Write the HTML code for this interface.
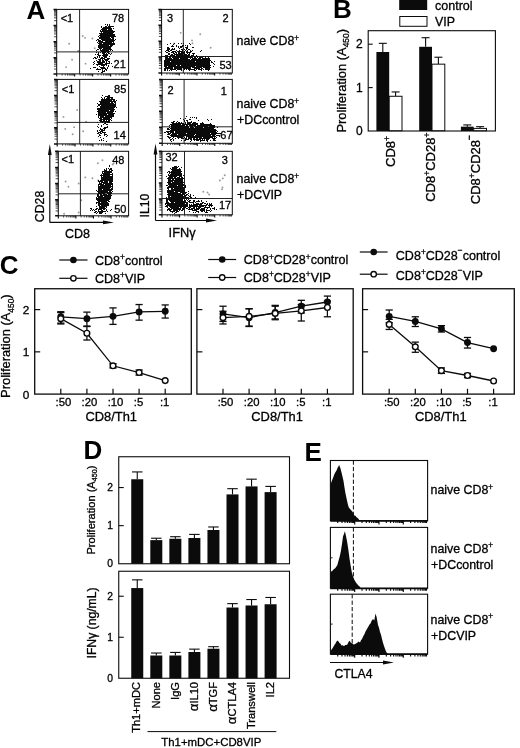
<!DOCTYPE html>
<html><head><meta charset="utf-8"><title>Figure</title>
<style>
html,body{margin:0;padding:0;background:#fff;}
body{width:520px;height:748px;overflow:hidden;font-family:"Liberation Sans",sans-serif;}
svg{display:block;will-change:transform;}
svg text{font-family:"Liberation Sans",sans-serif;}
</style></head><body>
<svg width="520" height="748" viewBox="0 0 520 748" font-family="Liberation Sans, sans-serif">
<rect x="0" y="0" width="520" height="748" fill="#fff"/>
<path d="M105 24.5h1M107 24.5h1M109 24.5h1M107 25.5h1M109 25.5h1M101 26.5h1M105 26.5h2M108 26.5h6M101 27.5h1M103 27.5h8M102 28.5h10M113 28.5h1M101 29.5h6M108 29.5h4M100 30.5h1M102 30.5h11M100 31.5h15M101 32.5h1M103 32.5h11M99 33.5h14M100 34.5h15M99 35.5h16M98 36.5h1M100 36.5h16M99 37.5h11M111 37.5h3M99 38.5h12M112 38.5h2M97 39.5h2M101 39.5h13M115 39.5h1M96 40.5h1M98 40.5h3M102 40.5h13M98 41.5h5M105 41.5h9M97 42.5h1M99 42.5h13M113 42.5h1M98 43.5h4M103 43.5h12M99 44.5h16M98 45.5h11M110 45.5h3M98 46.5h14M98 47.5h13M99 48.5h3M103 48.5h8M97 49.5h2M100 49.5h1M102 49.5h10M96 50.5h1M100 50.5h9M110 50.5h1M112 50.5h1M101 51.5h9M96 52.5h1M98 52.5h1M100 52.5h1M102 52.5h4M107 52.5h2M98 53.5h1M102 53.5h3M106 53.5h1M108 53.5h2M111 53.5h1M95 54.5h1M97 54.5h2M103 54.5h5M110 54.5h1M98 55.5h3M102 55.5h6M97 56.5h1M99 56.5h1M103 56.5h4M109 56.5h1M94 57.5h2M97 57.5h1M99 57.5h1M101 57.5h2M104 57.5h3M93 58.5h1M95 58.5h2M100 58.5h5M107 58.5h3M98 59.5h3M102 59.5h1M104 59.5h5M96 60.5h1M99 60.5h2M102 60.5h2M105 60.5h3M94 61.5h1M97 61.5h4M102 61.5h3M106 61.5h1M108 61.5h2M93 62.5h1M97 62.5h8M106 62.5h1M109 62.5h1M94 63.5h1M98 63.5h5M105 63.5h5M111 63.5h1M93 64.5h1M96 64.5h11M97 65.5h1M101 65.5h4M106 65.5h1M108 65.5h1M99 66.5h1M103 66.5h1M108 66.5h1M112 66.5h1M93 67.5h3M100 67.5h5M107 67.5h1M90 68.5h1M97 68.5h1M101 68.5h5M107 68.5h1M96 69.5h5M102 69.5h1M105 69.5h2M102 70.5h1M104 70.5h1M106 70.5h1M98 71.5h1M102 71.5h3M101 72.5h2" stroke="#0b0b0b" stroke-width="1" fill="none" opacity="1.0" shape-rendering="crispEdges"/>
<circle cx="85.56" cy="63.67" r="0.95" fill="#0b0b0b" opacity="0.42"/>
<circle cx="66.1" cy="67.09" r="0.95" fill="#0b0b0b" opacity="0.42"/>
<circle cx="94.72" cy="48.21" r="0.95" fill="#0b0b0b" opacity="0.42"/>
<circle cx="72.08" cy="59.81" r="0.95" fill="#0b0b0b" opacity="0.42"/>
<circle cx="92.4" cy="38.47" r="0.95" fill="#0b0b0b" opacity="0.42"/>
<circle cx="69.17" cy="43.82" r="0.95" fill="#0b0b0b" opacity="0.42"/>
<circle cx="85.09" cy="37.85" r="0.95" fill="#0b0b0b" opacity="0.42"/>
<circle cx="78.23" cy="51.01" r="0.95" fill="#0b0b0b" opacity="0.42"/>
<circle cx="82.73" cy="36.02" r="0.95" fill="#0b0b0b" opacity="0.42"/>
<rect x="56.7" y="9.4" width="71.9" height="64.5" fill="none" stroke="#0b0b0b" stroke-width="1.0"/>
<line x1="79.6" y1="9.4" x2="79.6" y2="73.9" stroke="#0b0b0b" stroke-width="0.9" />
<line x1="56.7" y1="51.9" x2="128.6" y2="51.9" stroke="#0b0b0b" stroke-width="0.9" />
<path d="M56.7 73.9v2.6M74.67 73.9v2.6M92.65 73.9v2.6M110.62 73.9v2.6" stroke="#0b0b0b" stroke-width="1.1" fill="none"/>
<path d="M62.11 73.9v1.7M65.28 73.9v1.7M67.52 73.9v1.7M69.26 73.9v1.7M70.69 73.9v1.7M71.89 73.9v1.7M72.93 73.9v1.7M73.85 73.9v1.7M80.09 73.9v1.7M83.25 73.9v1.7M85.5 73.9v1.7M87.24 73.9v1.7M88.66 73.9v1.7M89.87 73.9v1.7M90.91 73.9v1.7M91.83 73.9v1.7M98.06 73.9v1.7M101.23 73.9v1.7M103.47 73.9v1.7M105.21 73.9v1.7M106.64 73.9v1.7M107.84 73.9v1.7M108.88 73.9v1.7M109.8 73.9v1.7M116.04 73.9v1.7M119.2 73.9v1.7M121.45 73.9v1.7M123.19 73.9v1.7M124.61 73.9v1.7M125.82 73.9v1.7M126.86 73.9v1.7M127.78 73.9v1.7" stroke="#0b0b0b" stroke-width="0.9" fill="none" opacity="0.8"/>
<path d="M56.7 69.05h-2.7M56.7 66.21h-2.7M56.7 64.19h-2.7M56.7 62.63h-2.7M56.7 61.35h-2.7M56.7 60.27h-2.7M56.7 59.34h-2.7M56.7 58.51h-2.7M56.7 52.92h-2.7M56.7 50.08h-2.7M56.7 48.07h-2.7M56.7 46.5h-2.7M56.7 45.23h-2.7M56.7 44.15h-2.7M56.7 43.21h-2.7M56.7 42.39h-2.7M56.7 36.8h-2.7M56.7 33.96h-2.7M56.7 31.94h-2.7M56.7 30.38h-2.7M56.7 29.1h-2.7M56.7 28.02h-2.7M56.7 27.09h-2.7M56.7 26.26h-2.7M56.7 20.67h-2.7M56.7 17.83h-2.7M56.7 15.82h-2.7M56.7 14.25h-2.7M56.7 12.98h-2.7M56.7 11.9h-2.7M56.7 10.96h-2.7M56.7 10.14h-2.7" stroke="#0b0b0b" stroke-width="0.85" fill="none" opacity="0.9"/>
<path d="M56.7 73.9h-3.2M56.7 57.78h-3.2M56.7 41.65h-3.2M56.7 25.53h-3.2M56.7 9.4h-3.2" stroke="#0b0b0b" stroke-width="1.5" fill="none"/>
<text x="60.7" y="21.5" font-size="11" text-anchor="start" font-weight="normal" fill="#000" stroke="#000" stroke-width="0.3" >&lt;1</text>
<text x="124.2" y="21.6" font-size="11" text-anchor="end" font-weight="normal" fill="#000" stroke="#000" stroke-width="0.3" >78</text>
<text x="125.8" y="67.8" font-size="11" text-anchor="end" font-weight="normal" fill="#000" stroke="#000" stroke-width="0.3" >21</text>
<path d="M102 95.5h1M108 95.5h2M105 96.5h5M101 97.5h1M104 97.5h1M107 97.5h6M102 98.5h1M104 98.5h1M106 98.5h4M111 98.5h2M101 99.5h14M101 100.5h11M113 100.5h2M116 100.5h1M99 101.5h17M100 102.5h10M111 102.5h2M114 102.5h2M97 103.5h1M100 103.5h14M115 103.5h1M98 104.5h18M98 105.5h2M101 105.5h15M97 106.5h1M100 106.5h16M100 107.5h15M116 107.5h1M97 108.5h17M97 109.5h18M98 110.5h11M110 110.5h4M97 111.5h17M115 111.5h1M98 112.5h8M107 112.5h6M98 113.5h17M96 114.5h1M98 114.5h9M108 114.5h6M98 115.5h16M98 116.5h1M100 116.5h4M105 116.5h9M98 117.5h1M100 117.5h12M99 118.5h3M103 118.5h7M111 118.5h1M100 119.5h11M99 120.5h3M103 120.5h2M106 120.5h1M108 120.5h2M111 120.5h1M100 121.5h10M97 122.5h1M102 122.5h1M105 122.5h1M107 122.5h3M104 123.5h2M98 124.5h1M103 124.5h1M106 124.5h2M101 125.5h1M97 126.5h1M101 126.5h1M107 126.5h1M98 127.5h1M104 127.5h4M100 128.5h1M103 128.5h3M100 129.5h3M104 129.5h1M97 130.5h1M99 130.5h1M101 130.5h4M97 131.5h1M100 131.5h3M98 132.5h3M102 132.5h4M97 133.5h2M100 133.5h2M104 133.5h1M99 134.5h1M104 134.5h3M99 135.5h2M104 135.5h1M107 135.5h1M98 136.5h1M106 136.5h1M100 137.5h1M103 138.5h1M101 139.5h1M99 140.5h1M101 140.5h1M103 140.5h1M106 141.5h1" stroke="#0b0b0b" stroke-width="1" fill="none" opacity="1.0" shape-rendering="crispEdges"/>
<circle cx="70.35" cy="92" r="0.95" fill="#0b0b0b" opacity="0.42"/>
<circle cx="74.15" cy="127.17" r="0.95" fill="#0b0b0b" opacity="0.42"/>
<circle cx="63.47" cy="116.9" r="0.95" fill="#0b0b0b" opacity="0.42"/>
<circle cx="65.25" cy="128.89" r="0.95" fill="#0b0b0b" opacity="0.42"/>
<circle cx="77.19" cy="109.92" r="0.95" fill="#0b0b0b" opacity="0.42"/>
<circle cx="86.14" cy="121.61" r="0.95" fill="#0b0b0b" opacity="0.42"/>
<circle cx="72.66" cy="134.29" r="0.95" fill="#0b0b0b" opacity="0.42"/>
<circle cx="83.16" cy="131.31" r="0.95" fill="#0b0b0b" opacity="0.42"/>
<rect x="57.2" y="79.4" width="71.4" height="64.5" fill="none" stroke="#0b0b0b" stroke-width="1.0"/>
<line x1="79.7" y1="79.4" x2="79.7" y2="143.9" stroke="#0b0b0b" stroke-width="0.9" />
<line x1="57.2" y1="122.4" x2="128.6" y2="122.4" stroke="#0b0b0b" stroke-width="0.9" />
<path d="M57.2 143.9v2.6M75.05 143.9v2.6M92.9 143.9v2.6M110.75 143.9v2.6" stroke="#0b0b0b" stroke-width="1.1" fill="none"/>
<path d="M62.57 143.9v1.7M65.72 143.9v1.7M67.95 143.9v1.7M69.68 143.9v1.7M71.09 143.9v1.7M72.29 143.9v1.7M73.32 143.9v1.7M74.23 143.9v1.7M80.42 143.9v1.7M83.57 143.9v1.7M85.8 143.9v1.7M87.53 143.9v1.7M88.94 143.9v1.7M90.14 143.9v1.7M91.17 143.9v1.7M92.08 143.9v1.7M98.27 143.9v1.7M101.42 143.9v1.7M103.65 143.9v1.7M105.38 143.9v1.7M106.79 143.9v1.7M107.99 143.9v1.7M109.02 143.9v1.7M109.93 143.9v1.7M116.12 143.9v1.7M119.27 143.9v1.7M121.5 143.9v1.7M123.23 143.9v1.7M124.64 143.9v1.7M125.84 143.9v1.7M126.87 143.9v1.7M127.78 143.9v1.7" stroke="#0b0b0b" stroke-width="0.9" fill="none" opacity="0.8"/>
<path d="M57.2 139.05h-2.7M57.2 136.21h-2.7M57.2 134.19h-2.7M57.2 132.63h-2.7M57.2 131.35h-2.7M57.2 130.27h-2.7M57.2 129.34h-2.7M57.2 128.51h-2.7M57.2 122.92h-2.7M57.2 120.08h-2.7M57.2 118.07h-2.7M57.2 116.5h-2.7M57.2 115.23h-2.7M57.2 114.15h-2.7M57.2 113.21h-2.7M57.2 112.39h-2.7M57.2 106.8h-2.7M57.2 103.96h-2.7M57.2 101.94h-2.7M57.2 100.38h-2.7M57.2 99.1h-2.7M57.2 98.02h-2.7M57.2 97.09h-2.7M57.2 96.26h-2.7M57.2 90.67h-2.7M57.2 87.83h-2.7M57.2 85.82h-2.7M57.2 84.25h-2.7M57.2 82.98h-2.7M57.2 81.9h-2.7M57.2 80.96h-2.7M57.2 80.14h-2.7" stroke="#0b0b0b" stroke-width="0.85" fill="none" opacity="0.9"/>
<path d="M57.2 143.9h-3.2M57.2 127.78h-3.2M57.2 111.65h-3.2M57.2 95.53h-3.2M57.2 79.4h-3.2" stroke="#0b0b0b" stroke-width="1.5" fill="none"/>
<text x="61.8" y="93.2" font-size="11" text-anchor="start" font-weight="normal" fill="#000" stroke="#000" stroke-width="0.3" >&lt;1</text>
<text x="126.3" y="93.2" font-size="11" text-anchor="end" font-weight="normal" fill="#000" stroke="#000" stroke-width="0.3" >85</text>
<text x="125.8" y="139.3" font-size="11" text-anchor="end" font-weight="normal" fill="#000" stroke="#000" stroke-width="0.3" >14</text>
<path d="M109 165.5h1M109 166.5h1M106 168.5h1M108 168.5h1M110 168.5h2M104 169.5h1M106 169.5h1M109 169.5h3M104 170.5h3M109 170.5h1M111 170.5h2M102 171.5h10M102 172.5h1M104 172.5h8M102 173.5h8M112 173.5h1M101 174.5h1M103 174.5h10M100 175.5h10M112 175.5h1M101 176.5h1M103 176.5h10M101 177.5h12M101 178.5h12M101 179.5h12M98 180.5h1M100 180.5h13M98 181.5h5M104 181.5h4M109 181.5h4M99 182.5h1M101 182.5h7M109 182.5h3M99 183.5h3M103 183.5h10M98 184.5h6M105 184.5h8M98 185.5h1M100 185.5h11M112 185.5h1M98 186.5h15M98 187.5h13M112 187.5h1M98 188.5h12M111 188.5h2M98 189.5h4M103 189.5h10M96 190.5h1M98 190.5h14M97 191.5h11M109 191.5h2M112 191.5h1M98 192.5h14M98 193.5h7M107 193.5h5M97 194.5h2M100 194.5h2M103 194.5h4M108 194.5h3M97 195.5h2M100 195.5h12M97 196.5h6M104 196.5h7M96 197.5h1M98 197.5h13M96 198.5h15M96 199.5h14M97 200.5h12M98 201.5h9M108 201.5h2M96 202.5h4M101 202.5h7M96 203.5h1M98 203.5h11M98 204.5h11M98 205.5h2M101 205.5h8M96 206.5h1M99 206.5h8M99 207.5h6M106 207.5h1M90 208.5h2M96 208.5h2M99 208.5h7M91 209.5h1M93 209.5h1M95 209.5h2M98 209.5h4M103 209.5h2M106 209.5h1M111 209.5h1M90 210.5h1M92 210.5h1M94 210.5h1M98 210.5h1M101 210.5h2M106 210.5h1M110 210.5h1M95 211.5h2M98 211.5h8M107 211.5h1M94 212.5h2M97 212.5h1M99 212.5h4M96 213.5h1M99 213.5h3M105 213.5h1" stroke="#0b0b0b" stroke-width="1" fill="none" opacity="1.0" shape-rendering="crispEdges"/>
<circle cx="92.41" cy="178.23" r="0.95" fill="#0b0b0b" opacity="0.42"/>
<circle cx="78.67" cy="183.45" r="0.95" fill="#0b0b0b" opacity="0.42"/>
<circle cx="107.41" cy="198.85" r="0.95" fill="#0b0b0b" opacity="0.42"/>
<circle cx="112.61" cy="164.56" r="0.95" fill="#0b0b0b" opacity="0.42"/>
<circle cx="65.6" cy="181.47" r="0.95" fill="#0b0b0b" opacity="0.42"/>
<circle cx="98.2" cy="180.49" r="0.95" fill="#0b0b0b" opacity="0.42"/>
<circle cx="113.73" cy="163.26" r="0.95" fill="#0b0b0b" opacity="0.42"/>
<circle cx="102.47" cy="160.32" r="0.95" fill="#0b0b0b" opacity="0.42"/>
<circle cx="68.49" cy="186.77" r="0.95" fill="#0b0b0b" opacity="0.42"/>
<circle cx="102.93" cy="203.66" r="0.95" fill="#0b0b0b" opacity="0.42"/>
<circle cx="85.28" cy="177.42" r="0.95" fill="#0b0b0b" opacity="0.42"/>
<circle cx="97.85" cy="163.19" r="0.95" fill="#0b0b0b" opacity="0.42"/>
<circle cx="64.08" cy="213.8" r="0.95" fill="#0b0b0b" opacity="0.42"/>
<circle cx="78.61" cy="212.5" r="0.95" fill="#0b0b0b" opacity="0.42"/>
<circle cx="81.3" cy="200.21" r="0.95" fill="#0b0b0b" opacity="0.42"/>
<circle cx="109" cy="185.91" r="0.95" fill="#0b0b0b" opacity="0.42"/>
<rect x="58.3" y="151.3" width="70.3" height="64.5" fill="none" stroke="#0b0b0b" stroke-width="1.0"/>
<line x1="80.4" y1="151.3" x2="80.4" y2="215.8" stroke="#0b0b0b" stroke-width="0.9" />
<line x1="58.3" y1="193.8" x2="128.6" y2="193.8" stroke="#0b0b0b" stroke-width="0.9" />
<path d="M58.3 215.8v2.6M75.88 215.8v2.6M93.45 215.8v2.6M111.02 215.8v2.6" stroke="#0b0b0b" stroke-width="1.1" fill="none"/>
<path d="M63.59 215.8v1.7M66.69 215.8v1.7M68.88 215.8v1.7M70.58 215.8v1.7M71.98 215.8v1.7M73.15 215.8v1.7M74.17 215.8v1.7M75.07 215.8v1.7M81.17 215.8v1.7M84.26 215.8v1.7M86.46 215.8v1.7M88.16 215.8v1.7M89.55 215.8v1.7M90.73 215.8v1.7M91.75 215.8v1.7M92.65 215.8v1.7M98.74 215.8v1.7M101.84 215.8v1.7M104.03 215.8v1.7M105.73 215.8v1.7M107.13 215.8v1.7M108.3 215.8v1.7M109.32 215.8v1.7M110.22 215.8v1.7M116.32 215.8v1.7M119.41 215.8v1.7M121.61 215.8v1.7M123.31 215.8v1.7M124.7 215.8v1.7M125.88 215.8v1.7M126.9 215.8v1.7M127.8 215.8v1.7" stroke="#0b0b0b" stroke-width="0.9" fill="none" opacity="0.8"/>
<path d="M58.3 210.95h-2.7M58.3 208.11h-2.7M58.3 206.09h-2.7M58.3 204.53h-2.7M58.3 203.25h-2.7M58.3 202.17h-2.7M58.3 201.24h-2.7M58.3 200.41h-2.7M58.3 194.82h-2.7M58.3 191.98h-2.7M58.3 189.97h-2.7M58.3 188.4h-2.7M58.3 187.13h-2.7M58.3 186.05h-2.7M58.3 185.11h-2.7M58.3 184.29h-2.7M58.3 178.7h-2.7M58.3 175.86h-2.7M58.3 173.84h-2.7M58.3 172.28h-2.7M58.3 171h-2.7M58.3 169.92h-2.7M58.3 168.99h-2.7M58.3 168.16h-2.7M58.3 162.57h-2.7M58.3 159.73h-2.7M58.3 157.72h-2.7M58.3 156.15h-2.7M58.3 154.88h-2.7M58.3 153.8h-2.7M58.3 152.86h-2.7M58.3 152.04h-2.7" stroke="#0b0b0b" stroke-width="0.85" fill="none" opacity="0.9"/>
<path d="M58.3 215.8h-3.2M58.3 199.68h-3.2M58.3 183.55h-3.2M58.3 167.43h-3.2M58.3 151.3h-3.2" stroke="#0b0b0b" stroke-width="1.5" fill="none"/>
<text x="61.5" y="163.3" font-size="11" text-anchor="start" font-weight="normal" fill="#000" stroke="#000" stroke-width="0.3" >&lt;1</text>
<text x="124.5" y="163.6" font-size="11" text-anchor="end" font-weight="normal" fill="#000" stroke="#000" stroke-width="0.3" >48</text>
<text x="126.5" y="213.4" font-size="11" text-anchor="end" font-weight="normal" fill="#000" stroke="#000" stroke-width="0.3" >50</text>
<path d="M170 43.5h1M174 43.5h1M178 43.5h1M181 43.5h1M183 43.5h1M189 43.5h1M167 44.5h1M173 44.5h1M190 44.5h1M172 45.5h1M176 45.5h1M182 45.5h2M185 45.5h1M187 45.5h1M171 46.5h3M176 46.5h1M178 46.5h1M180 46.5h3M187 46.5h1M167 47.5h2M178 47.5h1M180 47.5h2M185 47.5h3M192 47.5h2M167 48.5h3M172 48.5h1M174 48.5h1M179 48.5h1M183 48.5h1M186 48.5h2M167 49.5h3M171 49.5h4M181 49.5h2M184 49.5h1M186 49.5h1M188 49.5h2M166 50.5h3M170 50.5h2M176 50.5h1M179 50.5h1M182 50.5h1M185 50.5h1M187 50.5h1M190 50.5h1M192 50.5h1M201 50.5h1M165 51.5h1M168 51.5h2M172 51.5h4M177 51.5h6M184 51.5h1M186 51.5h2M190 51.5h2M200 51.5h1M166 52.5h2M171 52.5h3M175 52.5h2M178 52.5h2M181 52.5h4M186 52.5h5M168 53.5h2M173 53.5h2M176 53.5h1M178 53.5h7M187 53.5h1M189 53.5h1M192 53.5h3M168 54.5h2M171 54.5h2M174 54.5h9M184 54.5h3M188 54.5h2M193 54.5h1M165 55.5h3M170 55.5h5M176 55.5h14M191 55.5h3M196 55.5h1M166 56.5h2M169 56.5h2M173 56.5h16M190 56.5h2M194 56.5h1M196 56.5h2M203 56.5h1M205 56.5h1M207 56.5h1M209 56.5h1M165 57.5h3M169 57.5h2M172 57.5h21M194 57.5h2M197 57.5h1M199 57.5h4M205 57.5h1M208 57.5h1M165 58.5h7M173 58.5h6M180 58.5h8M190 58.5h1M192 58.5h5M198 58.5h3M202 58.5h8M165 59.5h25M191 59.5h19M164 60.5h47M164 61.5h6M171 61.5h24M196 61.5h14M211 61.5h1M214 61.5h1M164 62.5h46M211 62.5h2M164 63.5h46M213 63.5h1M164 64.5h46M214 64.5h1M164 65.5h12M177 65.5h3M181 65.5h30M164 66.5h3M168 66.5h27M196 66.5h14M213 66.5h1M165 67.5h8M174 67.5h17M192 67.5h10M203 67.5h8M164 68.5h9M174 68.5h8M183 68.5h8M194 68.5h6M201 68.5h2M205 68.5h5M164 69.5h2M167 69.5h1M170 69.5h6M177 69.5h5M184 69.5h1M186 69.5h1M188 69.5h7M196 69.5h1M198 69.5h4M203 69.5h1M205 69.5h5M164 70.5h2M167 70.5h1M169 70.5h1M171 70.5h1M176 70.5h1M181 70.5h1M183 70.5h1M189 70.5h1M194 70.5h2M201 70.5h1M208 70.5h1" stroke="#0b0b0b" stroke-width="1" fill="none" opacity="1.0" shape-rendering="crispEdges"/>
<circle cx="210.67" cy="47.69" r="0.95" fill="#0b0b0b" opacity="0.42"/>
<circle cx="192.01" cy="40.42" r="0.95" fill="#0b0b0b" opacity="0.42"/>
<circle cx="200.22" cy="34.2" r="0.95" fill="#0b0b0b" opacity="0.42"/>
<circle cx="192.5" cy="43.32" r="0.95" fill="#0b0b0b" opacity="0.42"/>
<circle cx="180.74" cy="32.84" r="0.95" fill="#0b0b0b" opacity="0.42"/>
<circle cx="174.13" cy="43.48" r="0.95" fill="#0b0b0b" opacity="0.42"/>
<rect x="161.6" y="9.4" width="70.7" height="63.6" fill="none" stroke="#0b0b0b" stroke-width="1.0"/>
<line x1="183.3" y1="9.4" x2="183.3" y2="73" stroke="#0b0b0b" stroke-width="0.9" />
<line x1="161.6" y1="56.5" x2="232.3" y2="56.5" stroke="#0b0b0b" stroke-width="0.9" />
<path d="M161.6 73v2.6M179.28 73v2.6M196.95 73v2.6M214.62 73v2.6" stroke="#0b0b0b" stroke-width="1.1" fill="none"/>
<path d="M166.92 73v1.7M170.03 73v1.7M172.24 73v1.7M173.95 73v1.7M175.35 73v1.7M176.54 73v1.7M177.56 73v1.7M178.47 73v1.7M184.6 73v1.7M187.71 73v1.7M189.92 73v1.7M191.63 73v1.7M193.03 73v1.7M194.21 73v1.7M195.24 73v1.7M196.14 73v1.7M202.27 73v1.7M205.38 73v1.7M207.59 73v1.7M209.3 73v1.7M210.7 73v1.7M211.89 73v1.7M212.91 73v1.7M213.82 73v1.7M219.95 73v1.7M223.06 73v1.7M225.27 73v1.7M226.98 73v1.7M228.38 73v1.7M229.56 73v1.7M230.59 73v1.7M231.49 73v1.7" stroke="#0b0b0b" stroke-width="0.9" fill="none" opacity="0.8"/>
<path d="M161.6 68.21h-2.7M161.6 65.41h-2.7M161.6 63.43h-2.7M161.6 61.89h-2.7M161.6 60.63h-2.7M161.6 59.56h-2.7M161.6 58.64h-2.7M161.6 57.83h-2.7M161.6 52.31h-2.7M161.6 49.51h-2.7M161.6 47.53h-2.7M161.6 45.99h-2.7M161.6 44.73h-2.7M161.6 43.66h-2.7M161.6 42.74h-2.7M161.6 41.93h-2.7M161.6 36.41h-2.7M161.6 33.61h-2.7M161.6 31.63h-2.7M161.6 30.09h-2.7M161.6 28.83h-2.7M161.6 27.76h-2.7M161.6 26.84h-2.7M161.6 26.03h-2.7M161.6 20.51h-2.7M161.6 17.71h-2.7M161.6 15.73h-2.7M161.6 14.19h-2.7M161.6 12.93h-2.7M161.6 11.86h-2.7M161.6 10.94h-2.7M161.6 10.13h-2.7" stroke="#0b0b0b" stroke-width="0.85" fill="none" opacity="0.9"/>
<path d="M161.6 73h-3.2M161.6 57.1h-3.2M161.6 41.2h-3.2M161.6 25.3h-3.2M161.6 9.4h-3.2" stroke="#0b0b0b" stroke-width="1.5" fill="none"/>
<text x="167" y="21.6" font-size="11" text-anchor="start" font-weight="normal" fill="#000" stroke="#000" stroke-width="0.3" >3</text>
<text x="228.5" y="21.6" font-size="11" text-anchor="end" font-weight="normal" fill="#000" stroke="#000" stroke-width="0.3" >2</text>
<text x="231.7" y="68.8" font-size="11" text-anchor="end" font-weight="normal" fill="#000" stroke="#000" stroke-width="0.3" >53</text>
<path d="M186 116.5h1M190 117.5h1M192 117.5h1M194 117.5h1M196 117.5h1M180 118.5h1M185 118.5h1M196 118.5h1M183 119.5h1M189 119.5h2M207 119.5h1M211 119.5h1M184 120.5h1M186 120.5h2M198 120.5h1M208 120.5h1M173 121.5h2M177 121.5h1M184 121.5h1M187 121.5h1M191 121.5h1M171 122.5h3M176 122.5h1M178 122.5h2M181 122.5h1M185 122.5h1M187 122.5h5M193 122.5h3M202 122.5h1M172 123.5h12M185 123.5h1M187 123.5h4M192 123.5h6M200 123.5h4M210 123.5h1M170 124.5h11M182 124.5h16M200 124.5h12M169 125.5h1M171 125.5h14M186 125.5h2M189 125.5h7M197 125.5h18M171 126.5h18M190 126.5h3M194 126.5h14M209 126.5h6M169 127.5h1M171 127.5h18M190 127.5h4M195 127.5h8M204 127.5h11M217 127.5h1M167 128.5h2M170 128.5h44M167 129.5h3M171 129.5h45M170 130.5h47M166 131.5h8M175 131.5h41M217 131.5h1M164 132.5h2M167 132.5h2M170 132.5h4M175 132.5h42M168 133.5h3M172 133.5h14M187 133.5h23M211 133.5h10M167 134.5h3M171 134.5h6M178 134.5h17M196 134.5h20M170 135.5h24M195 135.5h16M212 135.5h3M216 135.5h4M167 136.5h2M171 136.5h13M186 136.5h30M219 136.5h1M168 137.5h3M173 137.5h1M177 137.5h6M184 137.5h1M186 137.5h1M188 137.5h14M203 137.5h10M214 137.5h1M216 137.5h1M169 138.5h1M172 138.5h1M175 138.5h1M178 138.5h1M181 138.5h3M185 138.5h2M188 138.5h4M193 138.5h2M196 138.5h2M199 138.5h11M212 138.5h4M170 139.5h2M173 139.5h1M185 139.5h4M190 139.5h2M193 139.5h8M202 139.5h1M204 139.5h1M206 139.5h3M213 139.5h2M170 140.5h1M173 140.5h1M181 140.5h1M184 140.5h2M191 140.5h1M194 140.5h1M196 140.5h3M200 140.5h5M206 140.5h2M210 140.5h1M213 140.5h3M171 141.5h1M190 141.5h1M200 141.5h1M207 141.5h1" stroke="#0b0b0b" stroke-width="1" fill="none" opacity="1.0" shape-rendering="crispEdges"/>
<rect x="162.2" y="79.4" width="70.1" height="63.9" fill="none" stroke="#0b0b0b" stroke-width="1.0"/>
<line x1="184.1" y1="79.4" x2="184.1" y2="143.3" stroke="#0b0b0b" stroke-width="0.9" />
<line x1="162.2" y1="126.8" x2="232.3" y2="126.8" stroke="#0b0b0b" stroke-width="0.9" />
<path d="M162.2 143.3v2.6M179.72 143.3v2.6M197.25 143.3v2.6M214.78 143.3v2.6" stroke="#0b0b0b" stroke-width="1.1" fill="none"/>
<path d="M167.48 143.3v1.7M170.56 143.3v1.7M172.75 143.3v1.7M174.45 143.3v1.7M175.84 143.3v1.7M177.01 143.3v1.7M178.03 143.3v1.7M178.92 143.3v1.7M185 143.3v1.7M188.09 143.3v1.7M190.28 143.3v1.7M191.97 143.3v1.7M193.36 143.3v1.7M194.54 143.3v1.7M195.55 143.3v1.7M196.45 143.3v1.7M202.53 143.3v1.7M205.61 143.3v1.7M207.8 143.3v1.7M209.5 143.3v1.7M210.89 143.3v1.7M212.06 143.3v1.7M213.08 143.3v1.7M213.97 143.3v1.7M220.05 143.3v1.7M223.14 143.3v1.7M225.33 143.3v1.7M227.02 143.3v1.7M228.41 143.3v1.7M229.59 143.3v1.7M230.6 143.3v1.7M231.5 143.3v1.7" stroke="#0b0b0b" stroke-width="0.9" fill="none" opacity="0.8"/>
<path d="M162.2 138.49h-2.7M162.2 135.68h-2.7M162.2 133.68h-2.7M162.2 132.13h-2.7M162.2 130.87h-2.7M162.2 129.8h-2.7M162.2 128.87h-2.7M162.2 128.06h-2.7M162.2 122.52h-2.7M162.2 119.7h-2.7M162.2 117.71h-2.7M162.2 116.16h-2.7M162.2 114.89h-2.7M162.2 113.82h-2.7M162.2 112.9h-2.7M162.2 112.08h-2.7M162.2 106.54h-2.7M162.2 103.73h-2.7M162.2 101.73h-2.7M162.2 100.18h-2.7M162.2 98.92h-2.7M162.2 97.85h-2.7M162.2 96.92h-2.7M162.2 96.11h-2.7M162.2 90.57h-2.7M162.2 87.75h-2.7M162.2 85.76h-2.7M162.2 84.21h-2.7M162.2 82.94h-2.7M162.2 81.87h-2.7M162.2 80.95h-2.7M162.2 80.13h-2.7" stroke="#0b0b0b" stroke-width="0.85" fill="none" opacity="0.9"/>
<path d="M162.2 143.3h-3.2M162.2 127.33h-3.2M162.2 111.35h-3.2M162.2 95.38h-3.2M162.2 79.4h-3.2" stroke="#0b0b0b" stroke-width="1.5" fill="none"/>
<text x="167.5" y="94" font-size="11" text-anchor="start" font-weight="normal" fill="#000" stroke="#000" stroke-width="0.3" >2</text>
<text x="226.8" y="95" font-size="11" text-anchor="end" font-weight="normal" fill="#000" stroke="#000" stroke-width="0.3" >1</text>
<text x="232.6" y="139.3" font-size="11" text-anchor="end" font-weight="normal" fill="#000" stroke="#000" stroke-width="0.3" >67</text>
<path d="M174 166.5h3M178 166.5h1M172 167.5h6M181 167.5h1M170 168.5h1M172 168.5h5M179 168.5h1M171 169.5h10M172 170.5h9M168 171.5h2M171 171.5h11M167 172.5h1M169 172.5h12M169 173.5h1M171 173.5h11M168 174.5h1M170 174.5h12M168 175.5h14M183 175.5h1M166 176.5h1M169 176.5h8M179 176.5h3M168 177.5h5M174 177.5h2M177 177.5h3M181 177.5h2M167 178.5h17M168 179.5h3M172 179.5h2M175 179.5h8M168 180.5h15M168 181.5h5M174 181.5h9M167 182.5h4M172 182.5h12M168 183.5h15M168 184.5h16M166 185.5h2M169 185.5h8M178 185.5h6M185 185.5h1M168 186.5h15M185 186.5h1M167 187.5h19M167 188.5h2M171 188.5h2M174 188.5h11M168 189.5h1M171 189.5h13M167 190.5h18M167 191.5h7M175 191.5h10M188 191.5h1M167 192.5h11M180 192.5h7M168 193.5h13M182 193.5h2M185 193.5h1M188 193.5h1M167 194.5h18M186 194.5h2M190 194.5h1M168 195.5h15M184 195.5h3M188 195.5h1M190 195.5h1M193 195.5h1M168 196.5h2M171 196.5h15M189 196.5h2M166 197.5h1M168 197.5h16M185 197.5h4M190 197.5h2M195 197.5h1M169 198.5h17M187 198.5h1M189 198.5h1M194 198.5h1M166 199.5h17M186 199.5h1M188 199.5h1M166 200.5h2M169 200.5h14M184 200.5h2M187 200.5h1M189 200.5h2M193 200.5h2M198 200.5h1M201 200.5h1M166 201.5h2M170 201.5h16M188 201.5h2M193 201.5h2M196 201.5h4M201 201.5h1M206 201.5h1M166 202.5h3M171 202.5h3M175 202.5h13M189 202.5h5M195 202.5h1M202 202.5h2M165 203.5h20M186 203.5h2M193 203.5h1M196 203.5h3M200 203.5h3M204 203.5h2M207 203.5h1M209 203.5h1M211 203.5h1M165 204.5h1M167 204.5h17M185 204.5h3M189 204.5h1M191 204.5h1M193 204.5h9M206 204.5h2M209 204.5h3M166 205.5h22M189 205.5h9M199 205.5h8M208 205.5h5M165 206.5h3M169 206.5h19M189 206.5h15M205 206.5h1M209 206.5h1M211 206.5h1M167 207.5h1M170 207.5h9M180 207.5h2M183 207.5h3M188 207.5h3M193 207.5h2M196 207.5h1M198 207.5h3M204 207.5h6M214 207.5h1M168 208.5h2M171 208.5h10M182 208.5h3M186 208.5h2M189 208.5h1M191 208.5h4M196 208.5h4M201 208.5h4M207 208.5h1M210 208.5h1M212 208.5h3M167 209.5h5M173 209.5h8M182 209.5h2M188 209.5h5M194 209.5h5M200 209.5h5M206 209.5h1M210 209.5h1M214 209.5h1M216 209.5h1M167 210.5h1M169 210.5h2M173 210.5h5M179 210.5h1M181 210.5h2M192 210.5h5M200 210.5h5M206 210.5h4M211 210.5h1M170 211.5h5M176 211.5h3M189 211.5h1M196 211.5h3M201 211.5h2M204 211.5h1M206 211.5h1M210 211.5h1M172 212.5h1M175 212.5h2M193 212.5h1M195 212.5h1M198 212.5h1M205 212.5h3M174 213.5h1" stroke="#0b0b0b" stroke-width="1" fill="none" opacity="1.0" shape-rendering="crispEdges"/>
<circle cx="219.88" cy="180.57" r="0.95" fill="#0b0b0b" opacity="0.42"/>
<circle cx="209.07" cy="194.54" r="0.95" fill="#0b0b0b" opacity="0.42"/>
<circle cx="222.8" cy="178.41" r="0.95" fill="#0b0b0b" opacity="0.42"/>
<circle cx="224.72" cy="175.25" r="0.95" fill="#0b0b0b" opacity="0.42"/>
<circle cx="207.5" cy="192.5" r="0.95" fill="#0b0b0b" opacity="0.42"/>
<circle cx="222.49" cy="187.48" r="0.95" fill="#0b0b0b" opacity="0.42"/>
<circle cx="203.37" cy="191.8" r="0.95" fill="#0b0b0b" opacity="0.42"/>
<circle cx="221.96" cy="189.36" r="0.95" fill="#0b0b0b" opacity="0.42"/>
<rect x="162" y="151.3" width="70.3" height="63.5" fill="none" stroke="#0b0b0b" stroke-width="1.0"/>
<line x1="184.5" y1="151.3" x2="184.5" y2="214.8" stroke="#0b0b0b" stroke-width="0.9" />
<line x1="162" y1="198.5" x2="232.3" y2="198.5" stroke="#0b0b0b" stroke-width="0.9" />
<path d="M162 214.8v2.6M179.57 214.8v2.6M197.15 214.8v2.6M214.73 214.8v2.6" stroke="#0b0b0b" stroke-width="1.1" fill="none"/>
<path d="M167.29 214.8v1.7M170.39 214.8v1.7M172.58 214.8v1.7M174.28 214.8v1.7M175.68 214.8v1.7M176.85 214.8v1.7M177.87 214.8v1.7M178.77 214.8v1.7M184.87 214.8v1.7M187.96 214.8v1.7M190.16 214.8v1.7M191.86 214.8v1.7M193.25 214.8v1.7M194.43 214.8v1.7M195.45 214.8v1.7M196.35 214.8v1.7M202.44 214.8v1.7M205.54 214.8v1.7M207.73 214.8v1.7M209.43 214.8v1.7M210.83 214.8v1.7M212 214.8v1.7M213.02 214.8v1.7M213.92 214.8v1.7M220.02 214.8v1.7M223.11 214.8v1.7M225.31 214.8v1.7M227.01 214.8v1.7M228.4 214.8v1.7M229.58 214.8v1.7M230.6 214.8v1.7M231.5 214.8v1.7" stroke="#0b0b0b" stroke-width="0.9" fill="none" opacity="0.8"/>
<path d="M162 210.02h-2.7M162 207.23h-2.7M162 205.24h-2.7M162 203.7h-2.7M162 202.45h-2.7M162 201.38h-2.7M162 200.46h-2.7M162 199.65h-2.7M162 194.15h-2.7M162 191.35h-2.7M162 189.37h-2.7M162 187.83h-2.7M162 186.57h-2.7M162 185.51h-2.7M162 184.59h-2.7M162 183.78h-2.7M162 178.27h-2.7M162 175.48h-2.7M162 173.49h-2.7M162 171.95h-2.7M162 170.7h-2.7M162 169.63h-2.7M162 168.71h-2.7M162 167.9h-2.7M162 162.4h-2.7M162 159.6h-2.7M162 157.62h-2.7M162 156.08h-2.7M162 154.82h-2.7M162 153.76h-2.7M162 152.84h-2.7M162 152.03h-2.7" stroke="#0b0b0b" stroke-width="0.85" fill="none" opacity="0.9"/>
<path d="M162 214.8h-3.2M162 198.93h-3.2M162 183.05h-3.2M162 167.18h-3.2M162 151.3h-3.2" stroke="#0b0b0b" stroke-width="1.5" fill="none"/>
<text x="165.5" y="161.2" font-size="11" text-anchor="start" font-weight="normal" fill="#000" stroke="#000" stroke-width="0.3" >32</text>
<text x="227.8" y="164.4" font-size="11" text-anchor="end" font-weight="normal" fill="#000" stroke="#000" stroke-width="0.3" >3</text>
<text x="231.2" y="208.5" font-size="11" text-anchor="end" font-weight="normal" fill="#000" stroke="#000" stroke-width="0.3" >17</text>
<line x1="49.8" y1="222.4" x2="49.8" y2="150" stroke="#0b0b0b" stroke-width="1.2" />
<path d="M49.8 144L47.9 155L51.7 155Z" fill="#0b0b0b"/>
<line x1="49.8" y1="222.4" x2="108" y2="222.4" stroke="#0b0b0b" stroke-width="1.2" />
<path d="M114 222.4L103 220.5L103 224.3Z" fill="#0b0b0b"/>
<line x1="155.5" y1="220.5" x2="155.5" y2="149.5" stroke="#0b0b0b" stroke-width="1.2" />
<path d="M155.5 143.5L153.6 154.5L157.4 154.5Z" fill="#0b0b0b"/>
<line x1="155.5" y1="220.5" x2="211" y2="220.5" stroke="#0b0b0b" stroke-width="1.2" />
<path d="M217 220.5L206 218.6L206 222.4Z" fill="#0b0b0b"/>
<text x="44.2" y="222.2" font-size="12.3" text-anchor="start" font-weight="normal" fill="#000" stroke="#000" stroke-width="0.3" transform="rotate(-90 44.2 222.2)" >CD28</text>
<text x="65" y="237.7" font-size="12.5" text-anchor="start" font-weight="normal" fill="#000" stroke="#000" stroke-width="0.3" >CD8</text>
<text x="148.8" y="217.5" font-size="12.3" text-anchor="start" font-weight="normal" fill="#000" stroke="#000" stroke-width="0.3" transform="rotate(-90 148.8 217.5)" >IL10</text>
<text x="168.6" y="237.2" font-size="12.8" text-anchor="start" font-weight="normal" fill="#000" stroke="#000" stroke-width="0.3" >IFN&#947;</text>
<text x="236.5" y="44.8" font-size="12.4" text-anchor="start" font-weight="normal" fill="#000" stroke="#000" stroke-width="0.3" >naive CD8<tspan font-size="8.18" dy="-4.22">+</tspan><tspan dy="4.22" font-size="12.4">&#8203;</tspan></text>
<text x="236.5" y="108" font-size="12.4" text-anchor="start" font-weight="normal" fill="#000" stroke="#000" stroke-width="0.3" >naive CD8<tspan font-size="8.18" dy="-4.22">+</tspan><tspan dy="4.22" font-size="12.4">&#8203;</tspan></text>
<text x="237" y="123.8" font-size="12.4" text-anchor="start" font-weight="normal" fill="#000" stroke="#000" stroke-width="0.3" >+DCcontrol</text>
<text x="236.5" y="183" font-size="12.4" text-anchor="start" font-weight="normal" fill="#000" stroke="#000" stroke-width="0.3" >naive CD8<tspan font-size="8.18" dy="-4.22">+</tspan><tspan dy="4.22" font-size="12.4">&#8203;</tspan></text>
<text x="237" y="198.7" font-size="12.4" text-anchor="start" font-weight="normal" fill="#000" stroke="#000" stroke-width="0.3" >+DCVIP</text>
<text x="26.5" y="18.7" font-size="26" text-anchor="start" font-weight="bold" fill="#000" stroke="#000" stroke-width="0.0" >A</text>
<text x="333" y="17.8" font-size="26" text-anchor="start" font-weight="bold" fill="#000" stroke="#000" stroke-width="0.0" >B</text>
<rect x="399.2" y="-1" width="28" height="11" fill="#0b0b0b" stroke="#0b0b0b" stroke-width="0"/>
<rect x="399.8" y="16.5" width="27.2" height="9.8" fill="#fff" stroke="#0b0b0b" stroke-width="1.0"/>
<text x="435" y="10" font-size="12.5" text-anchor="start" font-weight="normal" fill="#000" stroke="#000" stroke-width="0.3" >control</text>
<text x="435" y="26" font-size="12.4" text-anchor="start" font-weight="normal" fill="#000" stroke="#000" stroke-width="0.3" >VIP</text>
<rect x="368.2" y="30.7" width="127.2" height="100.3" fill="none" stroke="#0b0b0b" stroke-width="1.1"/>
<line x1="368.2" y1="87.6" x2="372.7" y2="87.6" stroke="#0b0b0b" stroke-width="1.1" />
<line x1="368.2" y1="44.2" x2="372.7" y2="44.2" stroke="#0b0b0b" stroke-width="1.1" />
<text x="362.6" y="134.9" font-size="12" text-anchor="end" font-weight="normal" fill="#000" stroke="#000" stroke-width="0.3" >0</text>
<text x="362.6" y="91.5" font-size="12" text-anchor="end" font-weight="normal" fill="#000" stroke="#000" stroke-width="0.3" >1</text>
<text x="362.6" y="48.1" font-size="12" text-anchor="end" font-weight="normal" fill="#000" stroke="#000" stroke-width="0.3" >2</text>
<rect x="376.4" y="52.01" width="12.8" height="78.99" fill="#0b0b0b" stroke="#0b0b0b" stroke-width="0"/>
<line x1="382.8" y1="52.01" x2="382.8" y2="43.33" stroke="#0b0b0b" stroke-width="1.1" />
<line x1="378.8" y1="43.33" x2="386.8" y2="43.33" stroke="#0b0b0b" stroke-width="1.1" />
<line x1="395.6" y1="96.28" x2="395.6" y2="91.94" stroke="#0b0b0b" stroke-width="1.1" />
<line x1="391.6" y1="91.94" x2="399.6" y2="91.94" stroke="#0b0b0b" stroke-width="1.1" />
<rect x="389.2" y="96.28" width="12.8" height="34.42" fill="#fff" stroke="#0b0b0b" stroke-width="1.0"/>
<rect x="419.2" y="46.8" width="12.8" height="84.2" fill="#0b0b0b" stroke="#0b0b0b" stroke-width="0"/>
<line x1="425.6" y1="46.8" x2="425.6" y2="37.69" stroke="#0b0b0b" stroke-width="1.1" />
<line x1="421.6" y1="37.69" x2="429.6" y2="37.69" stroke="#0b0b0b" stroke-width="1.1" />
<line x1="438.4" y1="64.16" x2="438.4" y2="57.22" stroke="#0b0b0b" stroke-width="1.1" />
<line x1="434.4" y1="57.22" x2="442.4" y2="57.22" stroke="#0b0b0b" stroke-width="1.1" />
<rect x="432" y="64.16" width="12.8" height="66.54" fill="#fff" stroke="#0b0b0b" stroke-width="1.0"/>
<rect x="460.9" y="126.66" width="12.8" height="4.34" fill="#0b0b0b" stroke="#0b0b0b" stroke-width="0"/>
<line x1="467.3" y1="126.66" x2="467.3" y2="124.92" stroke="#0b0b0b" stroke-width="1.1" />
<line x1="463.3" y1="124.92" x2="471.3" y2="124.92" stroke="#0b0b0b" stroke-width="1.1" />
<line x1="480.1" y1="128.4" x2="480.1" y2="126.66" stroke="#0b0b0b" stroke-width="1.1" />
<line x1="476.1" y1="126.66" x2="484.1" y2="126.66" stroke="#0b0b0b" stroke-width="1.1" />
<rect x="473.7" y="128.4" width="12.8" height="2.3" fill="#fff" stroke="#0b0b0b" stroke-width="1.0"/>
<text x="345.6" y="132.6" font-size="12.9" text-anchor="start" font-weight="normal" fill="#000" stroke="#000" stroke-width="0.3" transform="rotate(-90 345.6 132.6)" >Proliferation (A<tspan font-size="8.38" dy="3.1">450</tspan><tspan dy="-3.1" font-size="12.9">&#8203;</tspan>)</text>
<text x="394.8" y="167" font-size="13" text-anchor="start" font-weight="normal" fill="#000" stroke="#000" stroke-width="0.3" transform="rotate(-90 394.8 167)" >CD8<tspan font-size="8.58" dy="-4.42">+</tspan><tspan dy="4.42" font-size="13">&#8203;</tspan></text>
<text x="434.8" y="201.8" font-size="13" text-anchor="start" font-weight="normal" fill="#000" stroke="#000" stroke-width="0.3" transform="rotate(-90 434.8 201.8)" >CD8<tspan font-size="8.58" dy="-4.42">+</tspan><tspan dy="4.42" font-size="13">&#8203;</tspan>CD28<tspan font-size="8.58" dy="-4.42">+</tspan><tspan dy="4.42" font-size="13">&#8203;</tspan></text>
<text x="479.8" y="204.2" font-size="13" text-anchor="start" font-weight="normal" fill="#000" stroke="#000" stroke-width="0.3" transform="rotate(-90 479.8 204.2)" >CD8<tspan font-size="8.58" dy="-4.42">+</tspan><tspan dy="4.42" font-size="13">&#8203;</tspan>CD28<tspan font-size="8.58" dy="-7.54"><tspan font-weight="bold" font-size="8.5">&#8722;</tspan></tspan><tspan dy="7.54" font-size="13">&#8203;</tspan></text>
<text x="-0.2" y="274.2" font-size="26" text-anchor="start" font-weight="bold" fill="#000" stroke="#000" stroke-width="0.0" >C</text>
<rect x="34.7" y="288.75" width="156.6" height="105.35" fill="none" stroke="#0b0b0b" stroke-width="1.3"/>
<line x1="34.7" y1="351.85" x2="40.2" y2="351.85" stroke="#0b0b0b" stroke-width="1.2" />
<line x1="34.7" y1="309.6" x2="40.2" y2="309.6" stroke="#0b0b0b" stroke-width="1.2" />
<line x1="60.8" y1="394.1" x2="60.8" y2="388.8" stroke="#0b0b0b" stroke-width="1.2" />
<line x1="86.9" y1="394.1" x2="86.9" y2="388.8" stroke="#0b0b0b" stroke-width="1.2" />
<line x1="113" y1="394.1" x2="113" y2="388.8" stroke="#0b0b0b" stroke-width="1.2" />
<line x1="139.1" y1="394.1" x2="139.1" y2="388.8" stroke="#0b0b0b" stroke-width="1.2" />
<line x1="165.2" y1="394.1" x2="165.2" y2="388.8" stroke="#0b0b0b" stroke-width="1.2" />
<text x="55.5" y="405.8" font-size="11.3" text-anchor="start" font-weight="normal" fill="#000" stroke="#000" stroke-width="0.3" >:50</text>
<text x="81.6" y="405.8" font-size="11.3" text-anchor="start" font-weight="normal" fill="#000" stroke="#000" stroke-width="0.3" >:20</text>
<text x="107.7" y="405.8" font-size="11.3" text-anchor="start" font-weight="normal" fill="#000" stroke="#000" stroke-width="0.3" >:10</text>
<text x="133.8" y="405.8" font-size="11.3" text-anchor="start" font-weight="normal" fill="#000" stroke="#000" stroke-width="0.3" >:5</text>
<text x="159.9" y="405.8" font-size="11.3" text-anchor="start" font-weight="normal" fill="#000" stroke="#000" stroke-width="0.3" >:1</text>
<text x="111.2" y="421.3" font-size="12.9" text-anchor="middle" font-weight="normal" fill="#000" stroke="#000" stroke-width="0.3" >CD8/Th1</text>
<text x="29.4" y="398.7" font-size="11.8" text-anchor="end" font-weight="normal" fill="#000" stroke="#000" stroke-width="0.3" >0</text>
<text x="29.4" y="356.45" font-size="11.8" text-anchor="end" font-weight="normal" fill="#000" stroke="#000" stroke-width="0.3" >1</text>
<text x="29.4" y="314.2" font-size="11.8" text-anchor="end" font-weight="normal" fill="#000" stroke="#000" stroke-width="0.3" >2</text>
<line x1="60.8" y1="323.12" x2="60.8" y2="311.71" stroke="#0b0b0b" stroke-width="1.25" />
<line x1="57.2" y1="323.12" x2="64.4" y2="323.12" stroke="#0b0b0b" stroke-width="1.3" />
<line x1="57.2" y1="311.71" x2="64.4" y2="311.71" stroke="#0b0b0b" stroke-width="1.3" />
<line x1="86.9" y1="326.08" x2="86.9" y2="312.13" stroke="#0b0b0b" stroke-width="1.25" />
<line x1="83.3" y1="326.08" x2="90.5" y2="326.08" stroke="#0b0b0b" stroke-width="1.3" />
<line x1="83.3" y1="312.13" x2="90.5" y2="312.13" stroke="#0b0b0b" stroke-width="1.3" />
<line x1="113" y1="324.39" x2="113" y2="307.91" stroke="#0b0b0b" stroke-width="1.25" />
<line x1="109.4" y1="324.39" x2="116.6" y2="324.39" stroke="#0b0b0b" stroke-width="1.3" />
<line x1="109.4" y1="307.91" x2="116.6" y2="307.91" stroke="#0b0b0b" stroke-width="1.3" />
<line x1="139.1" y1="320.16" x2="139.1" y2="304.53" stroke="#0b0b0b" stroke-width="1.25" />
<line x1="135.5" y1="320.16" x2="142.7" y2="320.16" stroke="#0b0b0b" stroke-width="1.3" />
<line x1="135.5" y1="304.53" x2="142.7" y2="304.53" stroke="#0b0b0b" stroke-width="1.3" />
<line x1="165.2" y1="318.05" x2="165.2" y2="304.95" stroke="#0b0b0b" stroke-width="1.25" />
<line x1="161.6" y1="318.05" x2="168.8" y2="318.05" stroke="#0b0b0b" stroke-width="1.3" />
<line x1="161.6" y1="304.95" x2="168.8" y2="304.95" stroke="#0b0b0b" stroke-width="1.3" />
<polyline points="60.8,316.78 86.9,318.68 113,316.36 139.1,311.92 165.2,311.29" fill="none" stroke="#0b0b0b" stroke-width="1.3"/>
<circle cx="60.8" cy="316.78" r="3.45" fill="#0b0b0b"/>
<circle cx="86.9" cy="318.68" r="3.45" fill="#0b0b0b"/>
<circle cx="113" cy="316.36" r="3.45" fill="#0b0b0b"/>
<circle cx="139.1" cy="311.92" r="3.45" fill="#0b0b0b"/>
<circle cx="165.2" cy="311.29" r="3.45" fill="#0b0b0b"/>
<line x1="60.8" y1="323.97" x2="60.8" y2="312.56" stroke="#0b0b0b" stroke-width="1.25" />
<line x1="57.2" y1="323.97" x2="64.4" y2="323.97" stroke="#0b0b0b" stroke-width="1.3" />
<line x1="57.2" y1="312.56" x2="64.4" y2="312.56" stroke="#0b0b0b" stroke-width="1.3" />
<line x1="86.9" y1="340.02" x2="86.9" y2="326.5" stroke="#0b0b0b" stroke-width="1.25" />
<line x1="83.3" y1="340.02" x2="90.5" y2="340.02" stroke="#0b0b0b" stroke-width="1.3" />
<line x1="83.3" y1="326.5" x2="90.5" y2="326.5" stroke="#0b0b0b" stroke-width="1.3" />
<line x1="113" y1="367.91" x2="113" y2="363.68" stroke="#0b0b0b" stroke-width="1.25" />
<line x1="109.4" y1="367.91" x2="116.6" y2="367.91" stroke="#0b0b0b" stroke-width="1.3" />
<line x1="109.4" y1="363.68" x2="116.6" y2="363.68" stroke="#0b0b0b" stroke-width="1.3" />
<line x1="139.1" y1="375.09" x2="139.1" y2="370.02" stroke="#0b0b0b" stroke-width="1.25" />
<line x1="135.5" y1="375.09" x2="142.7" y2="375.09" stroke="#0b0b0b" stroke-width="1.3" />
<line x1="135.5" y1="370.02" x2="142.7" y2="370.02" stroke="#0b0b0b" stroke-width="1.3" />
<polyline points="60.8,318.68 86.9,333.26 113,365.79 139.1,372.55 165.2,380.58" fill="none" stroke="#0b0b0b" stroke-width="1.3"/>
<circle cx="60.8" cy="318.68" r="2.85" fill="#fff" stroke="#0b0b0b" stroke-width="1.4"/>
<circle cx="86.9" cy="333.26" r="2.85" fill="#fff" stroke="#0b0b0b" stroke-width="1.4"/>
<circle cx="113" cy="365.79" r="2.85" fill="#fff" stroke="#0b0b0b" stroke-width="1.4"/>
<circle cx="139.1" cy="372.55" r="2.85" fill="#fff" stroke="#0b0b0b" stroke-width="1.4"/>
<circle cx="165.2" cy="380.58" r="2.85" fill="#fff" stroke="#0b0b0b" stroke-width="1.4"/>
<rect x="196.9" y="288.75" width="156.3" height="105.35" fill="none" stroke="#0b0b0b" stroke-width="1.3"/>
<line x1="196.9" y1="351.85" x2="202.4" y2="351.85" stroke="#0b0b0b" stroke-width="1.2" />
<line x1="196.9" y1="309.6" x2="202.4" y2="309.6" stroke="#0b0b0b" stroke-width="1.2" />
<line x1="223" y1="394.1" x2="223" y2="388.8" stroke="#0b0b0b" stroke-width="1.2" />
<line x1="249.1" y1="394.1" x2="249.1" y2="388.8" stroke="#0b0b0b" stroke-width="1.2" />
<line x1="275.2" y1="394.1" x2="275.2" y2="388.8" stroke="#0b0b0b" stroke-width="1.2" />
<line x1="301.3" y1="394.1" x2="301.3" y2="388.8" stroke="#0b0b0b" stroke-width="1.2" />
<line x1="327.4" y1="394.1" x2="327.4" y2="388.8" stroke="#0b0b0b" stroke-width="1.2" />
<text x="217.7" y="405.8" font-size="11.3" text-anchor="start" font-weight="normal" fill="#000" stroke="#000" stroke-width="0.3" >:50</text>
<text x="243.8" y="405.8" font-size="11.3" text-anchor="start" font-weight="normal" fill="#000" stroke="#000" stroke-width="0.3" >:20</text>
<text x="269.9" y="405.8" font-size="11.3" text-anchor="start" font-weight="normal" fill="#000" stroke="#000" stroke-width="0.3" >:10</text>
<text x="296" y="405.8" font-size="11.3" text-anchor="start" font-weight="normal" fill="#000" stroke="#000" stroke-width="0.3" >:5</text>
<text x="322.1" y="405.8" font-size="11.3" text-anchor="start" font-weight="normal" fill="#000" stroke="#000" stroke-width="0.3" >:1</text>
<text x="277.1" y="421.3" font-size="12.9" text-anchor="middle" font-weight="normal" fill="#000" stroke="#000" stroke-width="0.3" >CD8/Th1</text>
<line x1="223" y1="321.43" x2="223" y2="306.22" stroke="#0b0b0b" stroke-width="1.25" />
<line x1="219.4" y1="321.43" x2="226.6" y2="321.43" stroke="#0b0b0b" stroke-width="1.3" />
<line x1="219.4" y1="306.22" x2="226.6" y2="306.22" stroke="#0b0b0b" stroke-width="1.3" />
<line x1="249.1" y1="326.5" x2="249.1" y2="308.75" stroke="#0b0b0b" stroke-width="1.25" />
<line x1="245.5" y1="326.5" x2="252.7" y2="326.5" stroke="#0b0b0b" stroke-width="1.3" />
<line x1="245.5" y1="308.75" x2="252.7" y2="308.75" stroke="#0b0b0b" stroke-width="1.3" />
<line x1="275.2" y1="318.9" x2="275.2" y2="306.22" stroke="#0b0b0b" stroke-width="1.25" />
<line x1="271.6" y1="318.9" x2="278.8" y2="318.9" stroke="#0b0b0b" stroke-width="1.3" />
<line x1="271.6" y1="306.22" x2="278.8" y2="306.22" stroke="#0b0b0b" stroke-width="1.3" />
<line x1="301.3" y1="312.98" x2="301.3" y2="300.31" stroke="#0b0b0b" stroke-width="1.25" />
<line x1="297.7" y1="312.98" x2="304.9" y2="312.98" stroke="#0b0b0b" stroke-width="1.3" />
<line x1="297.7" y1="300.31" x2="304.9" y2="300.31" stroke="#0b0b0b" stroke-width="1.3" />
<line x1="327.4" y1="307.91" x2="327.4" y2="296.08" stroke="#0b0b0b" stroke-width="1.25" />
<line x1="323.8" y1="307.91" x2="331" y2="307.91" stroke="#0b0b0b" stroke-width="1.3" />
<line x1="323.8" y1="296.08" x2="331" y2="296.08" stroke="#0b0b0b" stroke-width="1.3" />
<polyline points="223,313.83 249.1,317.63 275.2,312.56 301.3,306.22 327.4,302" fill="none" stroke="#0b0b0b" stroke-width="1.3"/>
<circle cx="223" cy="313.83" r="3.45" fill="#0b0b0b"/>
<circle cx="249.1" cy="317.63" r="3.45" fill="#0b0b0b"/>
<circle cx="275.2" cy="312.56" r="3.45" fill="#0b0b0b"/>
<circle cx="301.3" cy="306.22" r="3.45" fill="#0b0b0b"/>
<circle cx="327.4" cy="302" r="3.45" fill="#0b0b0b"/>
<line x1="223" y1="323.97" x2="223" y2="311.29" stroke="#0b0b0b" stroke-width="1.25" />
<line x1="219.4" y1="323.97" x2="226.6" y2="323.97" stroke="#0b0b0b" stroke-width="1.3" />
<line x1="219.4" y1="311.29" x2="226.6" y2="311.29" stroke="#0b0b0b" stroke-width="1.3" />
<line x1="249.1" y1="326.08" x2="249.1" y2="308.75" stroke="#0b0b0b" stroke-width="1.25" />
<line x1="245.5" y1="326.08" x2="252.7" y2="326.08" stroke="#0b0b0b" stroke-width="1.3" />
<line x1="245.5" y1="308.75" x2="252.7" y2="308.75" stroke="#0b0b0b" stroke-width="1.3" />
<line x1="275.2" y1="319.74" x2="275.2" y2="305.38" stroke="#0b0b0b" stroke-width="1.25" />
<line x1="271.6" y1="319.74" x2="278.8" y2="319.74" stroke="#0b0b0b" stroke-width="1.3" />
<line x1="271.6" y1="305.38" x2="278.8" y2="305.38" stroke="#0b0b0b" stroke-width="1.3" />
<line x1="301.3" y1="321.01" x2="301.3" y2="304.53" stroke="#0b0b0b" stroke-width="1.25" />
<line x1="297.7" y1="321.01" x2="304.9" y2="321.01" stroke="#0b0b0b" stroke-width="1.3" />
<line x1="297.7" y1="304.53" x2="304.9" y2="304.53" stroke="#0b0b0b" stroke-width="1.3" />
<line x1="327.4" y1="316.78" x2="327.4" y2="301.15" stroke="#0b0b0b" stroke-width="1.25" />
<line x1="323.8" y1="316.78" x2="331" y2="316.78" stroke="#0b0b0b" stroke-width="1.3" />
<line x1="323.8" y1="301.15" x2="331" y2="301.15" stroke="#0b0b0b" stroke-width="1.3" />
<polyline points="223,317.63 249.1,316.36 275.2,313.4 301.3,310.87 327.4,307.49" fill="none" stroke="#0b0b0b" stroke-width="1.3"/>
<circle cx="223" cy="317.63" r="2.85" fill="#fff" stroke="#0b0b0b" stroke-width="1.4"/>
<circle cx="249.1" cy="316.36" r="2.85" fill="#fff" stroke="#0b0b0b" stroke-width="1.4"/>
<circle cx="275.2" cy="313.4" r="2.85" fill="#fff" stroke="#0b0b0b" stroke-width="1.4"/>
<circle cx="301.3" cy="310.87" r="2.85" fill="#fff" stroke="#0b0b0b" stroke-width="1.4"/>
<circle cx="327.4" cy="307.49" r="2.85" fill="#fff" stroke="#0b0b0b" stroke-width="1.4"/>
<rect x="362.6" y="288.75" width="151.7" height="105.35" fill="none" stroke="#0b0b0b" stroke-width="1.3"/>
<line x1="362.6" y1="351.85" x2="368.1" y2="351.85" stroke="#0b0b0b" stroke-width="1.2" />
<line x1="362.6" y1="309.6" x2="368.1" y2="309.6" stroke="#0b0b0b" stroke-width="1.2" />
<line x1="389.2" y1="394.1" x2="389.2" y2="388.8" stroke="#0b0b0b" stroke-width="1.2" />
<line x1="415.3" y1="394.1" x2="415.3" y2="388.8" stroke="#0b0b0b" stroke-width="1.2" />
<line x1="441.4" y1="394.1" x2="441.4" y2="388.8" stroke="#0b0b0b" stroke-width="1.2" />
<line x1="467.5" y1="394.1" x2="467.5" y2="388.8" stroke="#0b0b0b" stroke-width="1.2" />
<line x1="493.6" y1="394.1" x2="493.6" y2="388.8" stroke="#0b0b0b" stroke-width="1.2" />
<text x="383.9" y="405.8" font-size="11.3" text-anchor="start" font-weight="normal" fill="#000" stroke="#000" stroke-width="0.3" >:50</text>
<text x="410" y="405.8" font-size="11.3" text-anchor="start" font-weight="normal" fill="#000" stroke="#000" stroke-width="0.3" >:20</text>
<text x="436.1" y="405.8" font-size="11.3" text-anchor="start" font-weight="normal" fill="#000" stroke="#000" stroke-width="0.3" >:10</text>
<text x="462.2" y="405.8" font-size="11.3" text-anchor="start" font-weight="normal" fill="#000" stroke="#000" stroke-width="0.3" >:5</text>
<text x="488.3" y="405.8" font-size="11.3" text-anchor="start" font-weight="normal" fill="#000" stroke="#000" stroke-width="0.3" >:1</text>
<text x="440.8" y="421.3" font-size="12.9" text-anchor="middle" font-weight="normal" fill="#000" stroke="#000" stroke-width="0.3" >CD8/Th1</text>
<line x1="389.2" y1="322.7" x2="389.2" y2="310.02" stroke="#0b0b0b" stroke-width="1.25" />
<line x1="385.6" y1="322.7" x2="392.8" y2="322.7" stroke="#0b0b0b" stroke-width="1.3" />
<line x1="385.6" y1="310.02" x2="392.8" y2="310.02" stroke="#0b0b0b" stroke-width="1.3" />
<line x1="415.3" y1="326.5" x2="415.3" y2="316.78" stroke="#0b0b0b" stroke-width="1.25" />
<line x1="411.7" y1="326.5" x2="418.9" y2="326.5" stroke="#0b0b0b" stroke-width="1.3" />
<line x1="411.7" y1="316.78" x2="418.9" y2="316.78" stroke="#0b0b0b" stroke-width="1.3" />
<line x1="441.4" y1="331.99" x2="441.4" y2="325.66" stroke="#0b0b0b" stroke-width="1.25" />
<line x1="437.8" y1="331.99" x2="445" y2="331.99" stroke="#0b0b0b" stroke-width="1.3" />
<line x1="437.8" y1="325.66" x2="445" y2="325.66" stroke="#0b0b0b" stroke-width="1.3" />
<line x1="467.5" y1="348.05" x2="467.5" y2="337.49" stroke="#0b0b0b" stroke-width="1.25" />
<line x1="463.9" y1="348.05" x2="471.1" y2="348.05" stroke="#0b0b0b" stroke-width="1.3" />
<line x1="463.9" y1="337.49" x2="471.1" y2="337.49" stroke="#0b0b0b" stroke-width="1.3" />
<polyline points="389.2,316.36 415.3,321.43 441.4,328.82 467.5,342.56 493.6,348.68" fill="none" stroke="#0b0b0b" stroke-width="1.3"/>
<circle cx="389.2" cy="316.36" r="3.45" fill="#0b0b0b"/>
<circle cx="415.3" cy="321.43" r="3.45" fill="#0b0b0b"/>
<circle cx="441.4" cy="328.82" r="3.45" fill="#0b0b0b"/>
<circle cx="467.5" cy="342.56" r="3.45" fill="#0b0b0b"/>
<circle cx="493.6" cy="348.68" r="3.45" fill="#0b0b0b"/>
<line x1="389.2" y1="329.46" x2="389.2" y2="319.32" stroke="#0b0b0b" stroke-width="1.25" />
<line x1="385.6" y1="329.46" x2="392.8" y2="329.46" stroke="#0b0b0b" stroke-width="1.3" />
<line x1="385.6" y1="319.32" x2="392.8" y2="319.32" stroke="#0b0b0b" stroke-width="1.3" />
<line x1="415.3" y1="352.27" x2="415.3" y2="342.13" stroke="#0b0b0b" stroke-width="1.25" />
<line x1="411.7" y1="352.27" x2="418.9" y2="352.27" stroke="#0b0b0b" stroke-width="1.3" />
<line x1="411.7" y1="342.13" x2="418.9" y2="342.13" stroke="#0b0b0b" stroke-width="1.3" />
<line x1="441.4" y1="373.4" x2="441.4" y2="367.91" stroke="#0b0b0b" stroke-width="1.25" />
<line x1="437.8" y1="373.4" x2="445" y2="373.4" stroke="#0b0b0b" stroke-width="1.3" />
<line x1="437.8" y1="367.91" x2="445" y2="367.91" stroke="#0b0b0b" stroke-width="1.3" />
<line x1="467.5" y1="377.62" x2="467.5" y2="373.4" stroke="#0b0b0b" stroke-width="1.25" />
<line x1="463.9" y1="377.62" x2="471.1" y2="377.62" stroke="#0b0b0b" stroke-width="1.3" />
<line x1="463.9" y1="373.4" x2="471.1" y2="373.4" stroke="#0b0b0b" stroke-width="1.3" />
<polyline points="389.2,324.39 415.3,346.78 441.4,370.65 467.5,375.51 493.6,381" fill="none" stroke="#0b0b0b" stroke-width="1.3"/>
<circle cx="389.2" cy="324.39" r="2.85" fill="#fff" stroke="#0b0b0b" stroke-width="1.4"/>
<circle cx="415.3" cy="346.78" r="2.85" fill="#fff" stroke="#0b0b0b" stroke-width="1.4"/>
<circle cx="441.4" cy="370.65" r="2.85" fill="#fff" stroke="#0b0b0b" stroke-width="1.4"/>
<circle cx="467.5" cy="375.51" r="2.85" fill="#fff" stroke="#0b0b0b" stroke-width="1.4"/>
<circle cx="493.6" cy="381" r="2.85" fill="#fff" stroke="#0b0b0b" stroke-width="1.4"/>
<text x="10.4" y="397.9" font-size="12.9" text-anchor="start" font-weight="normal" fill="#000" stroke="#000" stroke-width="0.3" transform="rotate(-90 10.4 397.9)" >Proliferation (A<tspan font-size="8.38" dy="3.1">450</tspan><tspan dy="-3.1" font-size="12.9">&#8203;</tspan>)</text>
<line x1="59.3" y1="260" x2="87.5" y2="260" stroke="#0b0b0b" stroke-width="1.2" />
<circle cx="73.4" cy="260" r="3.3000000000000003" fill="#0b0b0b"/>
<text x="95" y="264.5" font-size="12.55" text-anchor="start" font-weight="normal" fill="#000" stroke="#000" stroke-width="0.3" >CD8<tspan font-size="8.28" dy="-4.27">+</tspan><tspan dy="4.27" font-size="12.55">&#8203;</tspan>control</text>
<line x1="59.3" y1="278.3" x2="87.5" y2="278.3" stroke="#0b0b0b" stroke-width="1.2" />
<circle cx="73.4" cy="278.3" r="2.7" fill="#fff" stroke="#0b0b0b" stroke-width="1.4"/>
<text x="95" y="282.6" font-size="12.55" text-anchor="start" font-weight="normal" fill="#000" stroke="#000" stroke-width="0.3" >CD8<tspan font-size="8.28" dy="-4.27">+</tspan><tspan dy="4.27" font-size="12.55">&#8203;</tspan>VIP</text>
<line x1="208.2" y1="259.5" x2="236.2" y2="259.5" stroke="#0b0b0b" stroke-width="1.2" />
<circle cx="222.2" cy="259.5" r="3.3000000000000003" fill="#0b0b0b"/>
<text x="243.8" y="263.8" font-size="12.55" text-anchor="start" font-weight="normal" fill="#000" stroke="#000" stroke-width="0.3" >CD8<tspan font-size="8.28" dy="-4.27">+</tspan><tspan dy="4.27" font-size="12.55">&#8203;</tspan>CD28<tspan font-size="8.28" dy="-4.27">+</tspan><tspan dy="4.27" font-size="12.55">&#8203;</tspan>control</text>
<line x1="208.2" y1="277.5" x2="236.2" y2="277.5" stroke="#0b0b0b" stroke-width="1.2" />
<circle cx="222.2" cy="277.5" r="2.7" fill="#fff" stroke="#0b0b0b" stroke-width="1.4"/>
<text x="243.8" y="281.5" font-size="12.55" text-anchor="start" font-weight="normal" fill="#000" stroke="#000" stroke-width="0.3" >CD8<tspan font-size="8.28" dy="-4.27">+</tspan><tspan dy="4.27" font-size="12.55">&#8203;</tspan>CD28<tspan font-size="8.28" dy="-4.27">+</tspan><tspan dy="4.27" font-size="12.55">&#8203;</tspan>VIP</text>
<line x1="359.8" y1="252" x2="387.6" y2="252" stroke="#0b0b0b" stroke-width="1.2" />
<circle cx="373.7" cy="252" r="3.3000000000000003" fill="#0b0b0b"/>
<text x="395.8" y="259.5" font-size="12.55" text-anchor="start" font-weight="normal" fill="#000" stroke="#000" stroke-width="0.3" >CD8<tspan font-size="8.28" dy="-4.27">+</tspan><tspan dy="4.27" font-size="12.55">&#8203;</tspan>CD28<tspan font-size="8.28" dy="-6.9">&#8722;</tspan><tspan dy="6.9" font-size="12.55">&#8203;</tspan>control</text>
<line x1="359.8" y1="274.2" x2="387.6" y2="274.2" stroke="#0b0b0b" stroke-width="1.2" />
<circle cx="373.7" cy="274.2" r="2.7" fill="#fff" stroke="#0b0b0b" stroke-width="1.4"/>
<text x="395.8" y="279.5" font-size="12.55" text-anchor="start" font-weight="normal" fill="#000" stroke="#000" stroke-width="0.3" >CD8<tspan font-size="8.28" dy="-4.27">+</tspan><tspan dy="4.27" font-size="12.55">&#8203;</tspan>CD28<tspan font-size="8.28" dy="-6.9">&#8722;</tspan><tspan dy="6.9" font-size="12.55">&#8203;</tspan>VIP</text>
<text x="83.5" y="459.3" font-size="26" text-anchor="start" font-weight="bold" fill="#000" stroke="#000" stroke-width="0.0" >D</text>
<rect x="118.75" y="456.75" width="170.75" height="107" fill="none" stroke="#0b0b0b" stroke-width="1.1"/>
<line x1="118.75" y1="525.65" x2="123.75" y2="525.65" stroke="#0b0b0b" stroke-width="1.1" />
<line x1="118.75" y1="487.55" x2="123.75" y2="487.55" stroke="#0b0b0b" stroke-width="1.1" />
<text x="113" y="567.45" font-size="10.3" text-anchor="end" font-weight="normal" fill="#000" stroke="#000" stroke-width="0.3" >0</text>
<text x="113" y="529.35" font-size="10.3" text-anchor="end" font-weight="normal" fill="#000" stroke="#000" stroke-width="0.3" >1</text>
<text x="113" y="491.25" font-size="10.3" text-anchor="end" font-weight="normal" fill="#000" stroke="#000" stroke-width="0.3" >2</text>
<rect x="131.25" y="479.24" width="12" height="84.51" fill="#0b0b0b" stroke="#0b0b0b" stroke-width="0"/>
<line x1="137.25" y1="479.24" x2="137.25" y2="471.93" stroke="#0b0b0b" stroke-width="1.1" />
<line x1="132" y1="471.93" x2="142.5" y2="471.93" stroke="#0b0b0b" stroke-width="1.1" />
<rect x="150.3" y="540.13" width="12" height="23.62" fill="#0b0b0b" stroke="#0b0b0b" stroke-width="0"/>
<line x1="156.3" y1="540.13" x2="156.3" y2="538.22" stroke="#0b0b0b" stroke-width="1.1" />
<line x1="151.05" y1="538.22" x2="161.55" y2="538.22" stroke="#0b0b0b" stroke-width="1.1" />
<rect x="169.35" y="538.76" width="12" height="24.99" fill="#0b0b0b" stroke="#0b0b0b" stroke-width="0"/>
<line x1="175.35" y1="538.76" x2="175.35" y2="536.7" stroke="#0b0b0b" stroke-width="1.1" />
<line x1="170.1" y1="536.7" x2="180.6" y2="536.7" stroke="#0b0b0b" stroke-width="1.1" />
<rect x="188.4" y="537.99" width="12" height="25.76" fill="#0b0b0b" stroke="#0b0b0b" stroke-width="0"/>
<line x1="194.4" y1="537.99" x2="194.4" y2="534.41" stroke="#0b0b0b" stroke-width="1.1" />
<line x1="189.15" y1="534.41" x2="199.65" y2="534.41" stroke="#0b0b0b" stroke-width="1.1" />
<rect x="207.45" y="529.99" width="12" height="33.76" fill="#0b0b0b" stroke="#0b0b0b" stroke-width="0"/>
<line x1="213.45" y1="529.99" x2="213.45" y2="526.98" stroke="#0b0b0b" stroke-width="1.1" />
<line x1="208.2" y1="526.98" x2="218.7" y2="526.98" stroke="#0b0b0b" stroke-width="1.1" />
<rect x="226.5" y="494.41" width="12" height="69.34" fill="#0b0b0b" stroke="#0b0b0b" stroke-width="0"/>
<line x1="232.5" y1="494.41" x2="232.5" y2="488.69" stroke="#0b0b0b" stroke-width="1.1" />
<line x1="227.25" y1="488.69" x2="237.75" y2="488.69" stroke="#0b0b0b" stroke-width="1.1" />
<rect x="245.55" y="486.41" width="12" height="77.34" fill="#0b0b0b" stroke="#0b0b0b" stroke-width="0"/>
<line x1="251.55" y1="486.41" x2="251.55" y2="479.17" stroke="#0b0b0b" stroke-width="1.1" />
<line x1="246.3" y1="479.17" x2="256.8" y2="479.17" stroke="#0b0b0b" stroke-width="1.1" />
<rect x="264.6" y="492.12" width="12" height="71.63" fill="#0b0b0b" stroke="#0b0b0b" stroke-width="0"/>
<line x1="270.6" y1="492.12" x2="270.6" y2="486.41" stroke="#0b0b0b" stroke-width="1.1" />
<line x1="265.35" y1="486.41" x2="275.85" y2="486.41" stroke="#0b0b0b" stroke-width="1.1" />
<text x="94.8" y="554.6" font-size="11.1" text-anchor="start" font-weight="normal" fill="#000" stroke="#000" stroke-width="0.3" transform="rotate(-90 94.8 554.6)" >Proliferation (A<tspan font-size="7.21" dy="2.66">450</tspan><tspan dy="-2.66" font-size="11.1">&#8203;</tspan>)</text>
<rect x="118.75" y="571.25" width="170.75" height="107" fill="none" stroke="#0b0b0b" stroke-width="1.1"/>
<line x1="118.75" y1="637.25" x2="123.75" y2="637.25" stroke="#0b0b0b" stroke-width="1.1" />
<line x1="118.75" y1="596.25" x2="123.75" y2="596.25" stroke="#0b0b0b" stroke-width="1.1" />
<text x="113" y="681.95" font-size="10.3" text-anchor="end" font-weight="normal" fill="#000" stroke="#000" stroke-width="0.3" >0</text>
<text x="113" y="640.95" font-size="10.3" text-anchor="end" font-weight="normal" fill="#000" stroke="#000" stroke-width="0.3" >1</text>
<text x="113" y="599.95" font-size="10.3" text-anchor="end" font-weight="normal" fill="#000" stroke="#000" stroke-width="0.3" >2</text>
<rect x="131.25" y="588.05" width="12" height="90.2" fill="#0b0b0b" stroke="#0b0b0b" stroke-width="0"/>
<line x1="137.25" y1="588.05" x2="137.25" y2="579.85" stroke="#0b0b0b" stroke-width="1.1" />
<line x1="132" y1="579.85" x2="142.5" y2="579.85" stroke="#0b0b0b" stroke-width="1.1" />
<rect x="150.3" y="655.5" width="12" height="22.75" fill="#0b0b0b" stroke="#0b0b0b" stroke-width="0"/>
<line x1="156.3" y1="655.5" x2="156.3" y2="653.03" stroke="#0b0b0b" stroke-width="1.1" />
<line x1="151.05" y1="653.03" x2="161.55" y2="653.03" stroke="#0b0b0b" stroke-width="1.1" />
<rect x="169.35" y="655.5" width="12" height="22.75" fill="#0b0b0b" stroke="#0b0b0b" stroke-width="0"/>
<line x1="175.35" y1="655.5" x2="175.35" y2="652.42" stroke="#0b0b0b" stroke-width="1.1" />
<line x1="170.1" y1="652.42" x2="180.6" y2="652.42" stroke="#0b0b0b" stroke-width="1.1" />
<rect x="188.4" y="652.01" width="12" height="26.24" fill="#0b0b0b" stroke="#0b0b0b" stroke-width="0"/>
<line x1="194.4" y1="652.01" x2="194.4" y2="649.14" stroke="#0b0b0b" stroke-width="1.1" />
<line x1="189.15" y1="649.14" x2="199.65" y2="649.14" stroke="#0b0b0b" stroke-width="1.1" />
<rect x="207.45" y="648.73" width="12" height="29.52" fill="#0b0b0b" stroke="#0b0b0b" stroke-width="0"/>
<line x1="213.45" y1="648.73" x2="213.45" y2="646.68" stroke="#0b0b0b" stroke-width="1.1" />
<line x1="208.2" y1="646.68" x2="218.7" y2="646.68" stroke="#0b0b0b" stroke-width="1.1" />
<rect x="226.5" y="607.52" width="12" height="70.73" fill="#0b0b0b" stroke="#0b0b0b" stroke-width="0"/>
<line x1="232.5" y1="607.52" x2="232.5" y2="603.63" stroke="#0b0b0b" stroke-width="1.1" />
<line x1="227.25" y1="603.63" x2="237.75" y2="603.63" stroke="#0b0b0b" stroke-width="1.1" />
<rect x="245.55" y="605.48" width="12" height="72.77" fill="#0b0b0b" stroke="#0b0b0b" stroke-width="0"/>
<line x1="251.55" y1="605.48" x2="251.55" y2="599.53" stroke="#0b0b0b" stroke-width="1.1" />
<line x1="246.3" y1="599.53" x2="256.8" y2="599.53" stroke="#0b0b0b" stroke-width="1.1" />
<rect x="264.6" y="604.25" width="12" height="74" fill="#0b0b0b" stroke="#0b0b0b" stroke-width="0"/>
<line x1="270.6" y1="604.25" x2="270.6" y2="597.48" stroke="#0b0b0b" stroke-width="1.1" />
<line x1="265.35" y1="597.48" x2="275.85" y2="597.48" stroke="#0b0b0b" stroke-width="1.1" />
<text x="96" y="658.5" font-size="12.2" text-anchor="start" font-weight="normal" fill="#000" stroke="#000" stroke-width="0.3" transform="rotate(-90 96 658.5)" >IFN&#947; (ng/mL)</text>
<text x="140.45" y="682" font-size="11.1" text-anchor="end" font-weight="normal" fill="#000" stroke="#000" stroke-width="0.3" transform="rotate(-90 140.45 682)" >Th1+mDC</text>
<text x="159.5" y="682" font-size="11.1" text-anchor="end" font-weight="normal" fill="#000" stroke="#000" stroke-width="0.3" transform="rotate(-90 159.5 682)" >None</text>
<text x="178.55" y="682" font-size="11.1" text-anchor="end" font-weight="normal" fill="#000" stroke="#000" stroke-width="0.3" transform="rotate(-90 178.55 682)" >IgG</text>
<text x="197.6" y="682" font-size="11.1" text-anchor="end" font-weight="normal" fill="#000" stroke="#000" stroke-width="0.3" transform="rotate(-90 197.6 682)" ><tspan font-size="13.2">&#945;</tspan>IL10</text>
<text x="216.65" y="682" font-size="11.1" text-anchor="end" font-weight="normal" fill="#000" stroke="#000" stroke-width="0.3" transform="rotate(-90 216.65 682)" ><tspan font-size="13.2">&#945;</tspan>TGF</text>
<text x="235.7" y="682" font-size="11.1" text-anchor="end" font-weight="normal" fill="#000" stroke="#000" stroke-width="0.3" transform="rotate(-90 235.7 682)" ><tspan font-size="13.2">&#945;</tspan>CTLA4</text>
<text x="254.75" y="682" font-size="11.1" text-anchor="end" font-weight="normal" fill="#000" stroke="#000" stroke-width="0.3" transform="rotate(-90 254.75 682)" >Transwell</text>
<text x="273.8" y="682" font-size="11.1" text-anchor="end" font-weight="normal" fill="#000" stroke="#000" stroke-width="0.3" transform="rotate(-90 273.8 682)" >IL2</text>
<line x1="147.5" y1="731.6" x2="276.3" y2="731.6" stroke="#0b0b0b" stroke-width="1.0" />
<text x="211.3" y="746.4" font-size="11.4" text-anchor="middle" font-weight="normal" fill="#000" stroke="#000" stroke-width="0.3" >Th1+mDC+CD8VIP</text>
<text x="304.5" y="460.5" font-size="26" text-anchor="start" font-weight="bold" fill="#000" stroke="#000" stroke-width="0.0" >E</text>
<polygon points="330.5,520.6 330.5,484.5 331.75,480.89 333,478 334.25,474.54 335.5,472 336.5,470.43 337.5,468 339.2,465 340.5,468.5 342,474.5 343.5,481 344.45,487.27 345.4,493 347,500.5 347.9,504.56 348.8,507.5 350.5,509.5 351.4,510.54 352.3,511.5 353.5,514 354.6,515.8 355.55,515.86 356.5,517.2 358,518.3 359.6,520.6 359.6,520.6" fill="#0b0b0b"/>
<rect x="330.4" y="460.5" width="97.2" height="60.1" fill="none" stroke="#0b0b0b" stroke-width="1.1"/>
<line x1="353.4" y1="460.5" x2="353.4" y2="520.6" stroke="#0b0b0b" stroke-width="1.0" stroke-dasharray="4.2 2.2"/>
<path d="M337.72 520.6v2.5M341.99 520.6v2.5M345.03 520.6v2.5M347.38 520.6v2.5M349.31 520.6v2.5M350.94 520.6v2.5M352.35 520.6v2.5M353.59 520.6v2.5M354.7 520.6v3.8M362.02 520.6v2.5M366.29 520.6v2.5M369.33 520.6v2.5M371.68 520.6v2.5M373.61 520.6v2.5M375.24 520.6v2.5M376.65 520.6v2.5M377.89 520.6v2.5M379 520.6v3.8M386.32 520.6v2.5M390.59 520.6v2.5M393.63 520.6v2.5M395.98 520.6v2.5M397.91 520.6v2.5M399.54 520.6v2.5M400.95 520.6v2.5M402.19 520.6v2.5M403.3 520.6v3.8M410.62 520.6v2.5M414.89 520.6v2.5M417.93 520.6v2.5M420.28 520.6v2.5M422.21 520.6v2.5M423.84 520.6v2.5M425.25 520.6v2.5M426.49 520.6v2.5" stroke="#0b0b0b" stroke-width="1.15" fill="none"/>
<line x1="330.4" y1="520.9" x2="427.6" y2="520.9" stroke="#0b0b0b" stroke-width="1.5" />
<path d="M330.4 490.55h2.2" stroke="#0b0b0b" stroke-width="0.9" fill="none"/>
<polygon points="330.5,588.2 330.5,572.5 331.5,571.37 332.5,570.67 333.5,569.5 334.45,568.87 335.4,567.99 336.35,566.43 337.3,565.2 339,559 339.9,555.77 340.8,551.5 342,544 343,536.5 343.95,534.03 344.9,531.2 346,536 347.2,542.3 348.4,550 349.5,558.5 350.7,566 351.8,572.3 353,576.5 354.2,579.5 355.6,582 356.9,583.8 358.6,585.8 359.7,586.56 360.8,588.2 360.8,588.2" fill="#0b0b0b"/>
<rect x="330.4" y="527.4" width="97.2" height="60.8" fill="none" stroke="#0b0b0b" stroke-width="1.1"/>
<line x1="353.4" y1="527.4" x2="353.4" y2="588.2" stroke="#0b0b0b" stroke-width="1.0" stroke-dasharray="4.2 2.2"/>
<path d="M337.72 588.2v2.5M341.99 588.2v2.5M345.03 588.2v2.5M347.38 588.2v2.5M349.31 588.2v2.5M350.94 588.2v2.5M352.35 588.2v2.5M353.59 588.2v2.5M354.7 588.2v3.8M362.02 588.2v2.5M366.29 588.2v2.5M369.33 588.2v2.5M371.68 588.2v2.5M373.61 588.2v2.5M375.24 588.2v2.5M376.65 588.2v2.5M377.89 588.2v2.5M379 588.2v3.8M386.32 588.2v2.5M390.59 588.2v2.5M393.63 588.2v2.5M395.98 588.2v2.5M397.91 588.2v2.5M399.54 588.2v2.5M400.95 588.2v2.5M402.19 588.2v2.5M403.3 588.2v3.8M410.62 588.2v2.5M414.89 588.2v2.5M417.93 588.2v2.5M420.28 588.2v2.5M422.21 588.2v2.5M423.84 588.2v2.5M425.25 588.2v2.5M426.49 588.2v2.5" stroke="#0b0b0b" stroke-width="1.15" fill="none"/>
<line x1="330.4" y1="588.5" x2="427.6" y2="588.5" stroke="#0b0b0b" stroke-width="1.5" />
<path d="M330.4 557.8h2.2" stroke="#0b0b0b" stroke-width="0.9" fill="none"/>
<polygon points="330.5,654 330.5,651 331.75,649.14 333,647.5 334.25,645.22 335.5,643.5 336.5,641.5 337.5,640.5 338.5,641.47 339.5,643 340.5,643.63 341.5,645.5 342.75,645.18 344,646.3 345.25,645.12 346.5,645 347.5,644.24 348.5,642 349.7,640.8 351,643 352.25,643.19 353.5,644.5 354.75,644.32 356,643.5 357.25,642.74 358.5,641.5 360,642.5 361,640.35 362,639 363.25,636.37 364.5,634 365.75,630.94 367,629 368.25,626.65 369.5,624.5 370.5,623.45 371.5,621 373,619 374.3,620.5 375.5,613.5 376.6,617 378,625 379,627.81 380,632 381,634.74 382,639 383,642.78 384,646 385,648.68 386,651.5 387.5,653.8 387.5,654" fill="#0b0b0b"/>
<rect x="330.4" y="594.2" width="97.2" height="59.8" fill="none" stroke="#0b0b0b" stroke-width="1.1"/>
<line x1="352.2" y1="594.2" x2="352.2" y2="654" stroke="#0b0b0b" stroke-width="1.0" stroke-dasharray="4.2 2.2"/>
<path d="M337.72 654v2.5M341.99 654v2.5M345.03 654v2.5M347.38 654v2.5M349.31 654v2.5M350.94 654v2.5M352.35 654v2.5M353.59 654v2.5M354.7 654v3.8M362.02 654v2.5M366.29 654v2.5M369.33 654v2.5M371.68 654v2.5M373.61 654v2.5M375.24 654v2.5M376.65 654v2.5M377.89 654v2.5M379 654v3.8M386.32 654v2.5M390.59 654v2.5M393.63 654v2.5M395.98 654v2.5M397.91 654v2.5M399.54 654v2.5M400.95 654v2.5M402.19 654v2.5M403.3 654v3.8M410.62 654v2.5M414.89 654v2.5M417.93 654v2.5M420.28 654v2.5M422.21 654v2.5M423.84 654v2.5M425.25 654v2.5M426.49 654v2.5" stroke="#0b0b0b" stroke-width="1.15" fill="none"/>
<line x1="330.4" y1="654.3" x2="427.6" y2="654.3" stroke="#0b0b0b" stroke-width="1.5" />
<path d="M330.4 624.1h2.2" stroke="#0b0b0b" stroke-width="0.9" fill="none"/>
<line x1="330" y1="662.5" x2="388" y2="662.5" stroke="#0b0b0b" stroke-width="1.2" />
<path d="M394 662.5L383 660.6L383 664.4Z" fill="#0b0b0b"/>
<text x="334.5" y="677.6" font-size="12.2" text-anchor="start" font-weight="normal" fill="#000" stroke="#000" stroke-width="0.3" >CTLA4</text>
<text x="430.5" y="494" font-size="12.4" text-anchor="start" font-weight="normal" fill="#000" stroke="#000" stroke-width="0.3" >naive CD8<tspan font-size="8.18" dy="-4.22">+</tspan><tspan dy="4.22" font-size="12.4">&#8203;</tspan></text>
<text x="430.5" y="552.5" font-size="12.4" text-anchor="start" font-weight="normal" fill="#000" stroke="#000" stroke-width="0.3" >naive CD8<tspan font-size="8.18" dy="-4.22">+</tspan><tspan dy="4.22" font-size="12.4">&#8203;</tspan></text>
<text x="431" y="568.5" font-size="12.4" text-anchor="start" font-weight="normal" fill="#000" stroke="#000" stroke-width="0.3" >+DCcontrol</text>
<text x="430.5" y="623.5" font-size="12.4" text-anchor="start" font-weight="normal" fill="#000" stroke="#000" stroke-width="0.3" >naive CD8<tspan font-size="8.18" dy="-4.22">+</tspan><tspan dy="4.22" font-size="12.4">&#8203;</tspan></text>
<text x="431" y="639.5" font-size="12.4" text-anchor="start" font-weight="normal" fill="#000" stroke="#000" stroke-width="0.3" >+DCVIP</text>
</svg>
</body></html>
